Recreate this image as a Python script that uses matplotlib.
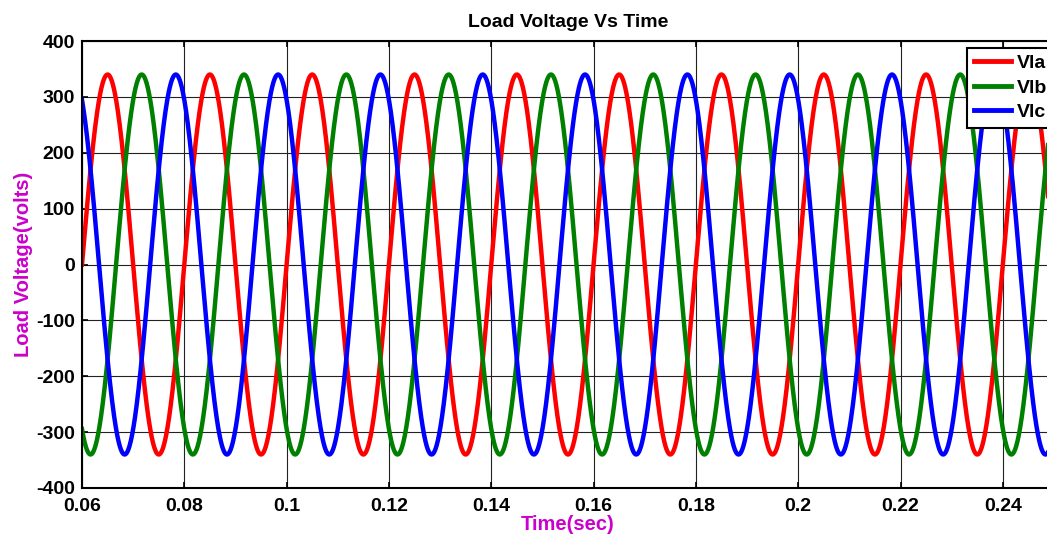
import numpy as np
import matplotlib.pyplot as plt

plt.rcParams['font.family'] = ['Liberation Sans', 'DejaVu Sans']
plt.rcParams['font.weight'] = 'bold'
plt.rcParams['axes.unicode_minus'] = False

# signal parameters
names = ['Vla', 'Vlb', 'Vlc']
colors = ['red', 'green', 'blue']
amplitude = [340, 340, 340]      # volts
freq = 50                        # Hz
phase_deg = [0, -120, 120]

t = np.linspace(0.06, 0.25, 4000)

fig = plt.figure(figsize=(10.47, 5.4), dpi=100)
ax = fig.add_axes([82/1047, 1-488/540, 972/1047, 447/540])

for n, c, a, p in zip(names, colors, amplitude, phase_deg):
    ax.plot(t, a*np.sin(2*np.pi*freq*t + np.deg2rad(p)), color=c, lw=3.2, label=n)

ax.set_xlim(0.06, 0.25)
ax.set_ylim(-400, 400)
ax.set_xticks(np.arange(0.06, 0.2401, 0.02))
ax.set_xticklabels(['0.06', '0.08', '0.1', '0.12', '0.14', '0.16', '0.18', '0.2', '0.22', '0.24'])
ax.set_yticks(np.arange(-400, 401, 100))
ax.tick_params(direction='in', labelsize=14, top=True, right=True, width=1.2, length=4)
ax.tick_params(axis='x', pad=7)
ax.tick_params(axis='y', pad=5)
ax.grid(True, color='#222222', lw=0.8)
for s in ax.spines.values():
    s.set_linewidth(1.5)

ax.set_title('Load Voltage Vs Time', fontsize=14, fontweight='bold', pad=10)
ax.set_xlabel('Time(sec)', color='#cc00cc', fontsize=14.5, fontweight='bold', labelpad=0)
ax.set_ylabel('Load Voltage(volts)', color='#cc00cc', fontsize=14.5, fontweight='bold', labelpad=2)

leg = ax.legend(loc='upper left', bbox_to_anchor=(0.911, 0.985), fontsize=14, handlelength=1.9,
                handletextpad=0.3, fancybox=False, framealpha=1, edgecolor='black',
                borderpad=0.35, labelspacing=0.35, borderaxespad=0)
leg.get_frame().set_linewidth(1.5)
for line in leg.get_lines():
    line.set_linewidth(3.5)

fig.savefig('out.png', dpi=100)
